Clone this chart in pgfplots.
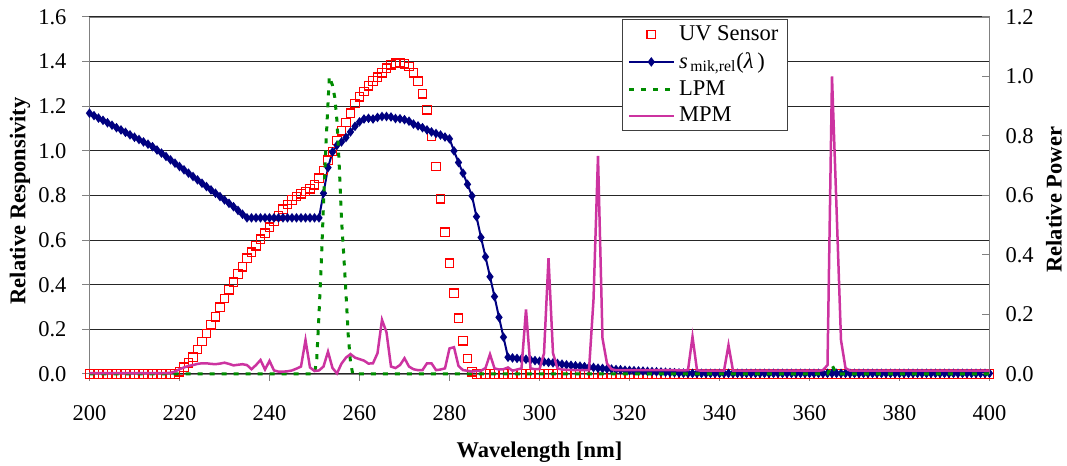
\documentclass[border=0pt]{standalone}
\usepackage{pgfplots}
\pgfplotsset{compat=1.18}
\usepackage{fontspec}
\setmainfont{Liberation Serif}

\definecolor{uvred}{RGB}{255,0,0}
\definecolor{smikblue}{RGB}{0,0,128}
\definecolor{lpmgreen}{RGB}{0,140,0}
\definecolor{mpmpink}{RGB}{204,51,160}
\newcommand\lbl{\fontsize{11.25}{13.5}\selectfont}

\pgfplotsset{
  base/.style={
    scale only axis, width=450pt, height=178.5pt,
    at={(0,0)}, anchor=south west,
    xmin=200, xmax=400, clip=false,
    tick label style={font=\lbl},
    label style={font=\lbl\bfseries},
    /pgf/number format/.cd, fixed, fixed zerofill, precision=1, assume math mode=true,
  },
  uvstyle/.style={only marks, mark=square, mark size=2.1pt, mark options={draw=uvred, line width=0.65pt, fill=none}},
  smikstyle/.style={smikblue, line width=1pt, mark=diamond*, mark size=1.6pt, mark options={draw=smikblue, fill=smikblue}},
  lpmstyle/.style={lpmgreen, line width=1.5pt, dash pattern=on 2.5pt off 3.5pt, no markers},
  mpmstyle/.style={mpmpink, line width=1.25pt, no markers},
}

\begin{document}
\begin{tikzpicture}
\useasboundingbox (-44.75pt,-46pt) rectangle (488.75pt,187pt);

\begin{axis}[base,
  ymin=0, ymax=1.6, ytick={0,0.2,...,1.6},
  xtick={200,220,...,400},
  tick pos=left, tick align=outside, major tick length=3.5pt,
  axis line style={gray},
  tick style={gray, line width=0.5pt},
  ymajorgrids, grid style={black!85, line width=0.5pt},
  xlabel={Wavelength [nm]},
  ylabel={Relative Responsivity},
  xlabel style={at={(axis description cs:0.5,-0.2200)}, anchor=center},
  ylabel style={at={(axis description cs:-0.0772,0.485)}, anchor=center},
  xticklabel style={anchor=center, yshift=-16pt, /pgf/number format/precision=0},
  yticklabel style={anchor=east, xshift=-4.5pt},
]
% UV Sensor
\addplot[uvstyle] coordinates {
(200,0)(201,0)(202,0)(203,0)(204,0)(205,0)(206,0)(207,0)(208,0)(209,0)
(210,0)(211,0)(212,0)(213,0)(214,0)(215,0)(216,0)(217,0)(218,0)(219,0)
(220,0.010)(221,0.030)(222,0.050)(223,0.075)(224,0.110)(225,0.145)(226,0.182)(227,0.220)(228,0.257)(229,0.299)
(230,0.338)(231,0.377)(232,0.412)(233,0.448)(234,0.481)(235,0.519)(236,0.546)(237,0.575)(238,0.604)(239,0.631)
(240,0.658)(241,0.683)(242,0.709)(243,0.738)(244,0.760)(245,0.780)(246,0.795)(247,0.808)(248,0.818)(249,0.830)
(250,0.848)(251,0.878)(252,0.912)(253,0.958)(254,0.997)(255,1.046)(256,1.090)(257,1.127)(258,1.169)(259,1.212)
(260,1.242)(261,1.266)(262,1.292)(263,1.313)(264,1.330)(265,1.350)(266,1.370)(267,1.386)(268,1.393)(269,1.396)
(270,1.390)(271,1.378)(272,1.350)(273,1.312)(274,1.256)(275,1.184)(276,1.064)(277,0.930)(278,0.785)(279,0.635)
(280,0.496)(281,0.362)(282,0.250)(283,0.149)(284,0.070)(285,0.010)(286,0)(287,0)(288,0)(289,0)
(290,0)(291,0)(292,0)(293,0)(294,0)(295,0)(296,0)(297,0)(298,0)(299,0)
(300,0)(301,0)(302,0)(303,0)(304,0)(305,0)(306,0)(307,0)(308,0)(309,0)
(310,0)(311,0)(312,0)(313,0)(314,0)(315,0)(316,0)(317,0)(318,0)(319,0)
(320,0)(321,0)(322,0)(323,0)(324,0)(325,0)(326,0)(327,0)(328,0)(329,0)
(330,0)(331,0)(332,0)(333,0)(334,0)(335,0)(336,0)(337,0)(338,0)(339,0)
(340,0)(341,0)(342,0)(343,0)(344,0)(345,0)(346,0)(347,0)(348,0)(349,0)
(350,0)(351,0)(352,0)(353,0)(354,0)(355,0)(356,0)(357,0)(358,0)(359,0)
(360,0)(361,0)(362,0)(363,0)(364,0)(365,0)(366,0)(367,0)(368,0)(369,0)
(370,0)(371,0)(372,0)(373,0)(374,0)(375,0)(376,0)(377,0)(378,0)(379,0)
(380,0)(381,0)(382,0)(383,0)(384,0)(385,0)(386,0)(387,0)(388,0)(389,0)
(390,0)(391,0)(392,0)(393,0)(394,0)(395,0)(396,0)(397,0)(398,0)(399,0)
(400,0)
};
% s_mik,rel
\addplot[smikstyle] coordinates {
(200,1.169)(201,1.158)(202,1.147)(203,1.137)(204,1.126)(205,1.115)(206,1.104)(207,1.094)(208,1.083)(209,1.072)
(210,1.061)(211,1.051)(212,1.040)(213,1.030)(214,1.019)(215,1.004)(216,0.990)(217,0.975)(218,0.960)(219,0.945)
(220,0.930)(221,0.915)(222,0.900)(223,0.885)(224,0.870)(225,0.855)(226,0.840)(227,0.825)(228,0.810)(229,0.795)
(230,0.780)(231,0.765)(232,0.750)(233,0.733)(234,0.716)(235,0.700)(236,0.700)(237,0.700)(238,0.700)(239,0.700)
(240,0.700)(241,0.700)(242,0.700)(243,0.700)(244,0.700)(245,0.700)(246,0.700)(247,0.700)(248,0.700)(249,0.700)
(250,0.700)(251,0.700)(252,0.810)(253,0.925)(254,0.995)(255,1.025)(256,1.040)(257,1.060)(258,1.085)(259,1.110)
(260,1.130)(261,1.143)(262,1.146)(263,1.143)(264,1.150)(265,1.154)(266,1.154)(267,1.152)(268,1.145)(269,1.144)
(270,1.140)(271,1.133)(272,1.120)(273,1.112)(274,1.104)(275,1.094)(276,1.085)(277,1.078)(278,1.071)(279,1.062)
(280,1.054)(281,1.000)(282,0.948)(283,0.900)(284,0.850)(285,0.798)(286,0.705)(287,0.612)(288,0.525)(289,0.436)
(290,0.347)(291,0.254)(292,0.165)(293,0.075)(294,0.072)(295,0.070)(296,0.068)(297,0.066)(298,0.063)(299,0.060)
(300,0.057)(301,0.055)(302,0.052)(303,0.050)(304,0.047)(305,0.044)(306,0.041)(307,0.039)(308,0.037)(309,0.035)
(310,0.033)(311,0.031)(312,0.029)(313,0.026)(314,0.025)(315,0.023)(316,0.022)(317,0.020)(318,0.019)(319,0.017)
(320,0.016)(321,0.015)(322,0.014)(323,0.013)(324,0.012)(325,0.011)(326,0.010)(327,0.009)(328,0.008)(329,0.007)
(330,0.006)(331,0.005)(332,0.004)(333,0.003)(334,0.003)(335,0.003)(336,0.003)(337,0.003)(338,0.003)(339,0.003)
(340,0.003)(341,0.003)(342,0.003)(343,0.003)(344,0.003)(345,0.003)(346,0.003)(347,0.003)(348,0.003)(349,0.003)
(350,0.003)(351,0.003)(352,0.003)(353,0.003)(354,0.003)(355,0.003)(356,0.003)(357,0.003)(358,0.003)(359,0.003)
(360,0.003)(361,0.003)(362,0.003)(363,0.003)(364,0.003)(365,0.003)(366,0.003)(367,0.003)(368,0.003)(369,0.003)
(370,0.003)(371,0.003)(372,0.003)(373,0.003)(374,0.003)(375,0.003)(376,0.003)(377,0.003)(378,0.003)(379,0.003)
(380,0.003)(381,0.003)(382,0.003)(383,0.003)(384,0.003)(385,0.003)(386,0.003)(387,0.003)(388,0.003)(389,0.003)
(390,0.003)(391,0.003)(392,0.003)(393,0.003)(394,0.003)(395,0.003)(396,0.003)(397,0.003)(398,0.003)(399,0.003)
(400,0.003)
};
\end{axis}

\begin{axis}[base,
  ymin=0, ymax=1.2, ytick={0,0.2,...,1.2},
  axis y line*=right, axis x line=none,
  axis line style={gray, -},
  ytick align=inside, major tick length=4pt,
  tick style={gray, line width=0.5pt},
  ylabel={Relative Power},
  ylabel style={at={(axis description cs:1.0717,0.488)}, anchor=center, rotate=0},
  yticklabel style={anchor=west, xshift=4.5pt},
  legend style={at={(0.5917,0.9944)}, anchor=north west, font=\lbl,
    draw=black!75, line width=0.6pt, inner xsep=2.5pt, inner ysep=1pt, row sep=0.5pt,
    legend cell align=left},
  legend image code/.code={\draw[mark repeat=2,mark phase=2,#1] plot coordinates {(0cm,0cm)(0.39cm,0cm)(0.78cm,0cm)};},
]
\addlegendimage{uvstyle}
\addlegendentry{UV Sensor}
\addlegendimage{smikstyle}
\addlegendentry{\textit{s}\textsubscript{\,mik,rel}(\textit{λ}\,)}
% LPM
\addplot[lpmstyle] coordinates {
(200,0)(210,0)(220,0)(230,0)(240,0)(250,0)(250.5,0.05)(251,0.20)(251.5,0.37)(252,0.57)(252.5,0.76)(253,0.91)(253.3,1.0)
(254,0.97)(254.5,0.93)(255,0.85)(255.5,0.70)(256,0.52)(256.5,0.40)(257,0.27)(257.5,0.13)(258,0.04)(258.5,0)
(270,0)(280,0)(290,0)(300,0)(310,0)(320,0)(330,0)(340,0)(350,0)(360,0)(364,0)(365,0.03)(366,0)
(370,0)(380,0)(390,0)(400,0)
};
\addlegendentry{LPM}
% MPM
\addplot[mpmstyle] coordinates {
(200,0.003)(201,0.003)(202,0.003)(203,0.003)(204,0.003)(205,0.003)(206,0.003)(207,0.003)(208,0.003)(209,0.003)
(210,0.003)(211,0.003)(212,0.003)(213,0.003)(214,0.003)(215,0.003)(216,0.003)(217,0.003)(218,0.004)(219,0.008)
(220,0.016)(221,0.022)(222,0.027)(223,0.030)(224,0.034)(225,0.036)(226,0.036)(227,0.034)(228,0.033)(229,0.035)
(230,0.038)(231,0.034)(232,0.029)(233,0.031)(234,0.033)(235,0.030)(236,0.016)(237,0.030)(238,0.047)(239,0.015)
(240,0.044)(241,0.012)(242,0.008)(243,0.008)(244,0.009)(245,0.012)(246,0.018)(247,0.025)(248,0.114)(249,0.022)
(250,0.010)(251,0.012)(252,0.025)(253,0.075)(254,0.020)(255,0.002)(256,0.035)(257,0.055)(258,0.067)(259,0.055)
(260,0.050)(261,0.045)(262,0.035)(263,0.036)(264,0.070)(265,0.182)(266,0.140)(267,0.025)(268,0.020)(269,0.030)
(270,0.053)(271,0.025)(272,0.016)(273,0.013)(274,0.013)(275,0.036)(276,0.036)(277,0.013)(278,0.015)(279,0.019)
(280,0.086)(281,0.090)(282,0.027)(283,0.013)(284,0.011)(285,0.008)(286,0.010)(287,0.011)(288,0.020)(289,0.066)
(290,0.019)(291,0.015)(292,0.016)(293,0.022)(294,0.011)(295,0.015)(296,0.019)(297,0.217)(298,0.019)(299,0.016)
(300,0.016)(301,0.069)(302,0.389)(303,0.070)(304,0.019)(305,0.015)(306,0.014)(307,0.014)(308,0.013)(309,0.013)
(310,0.013)(311,0.013)(312,0.250)(313,0.733)(314,0.120)(315,0.035)(316,0.016)(317,0.013)(318,0.013)(319,0.013)
(320,0.013)(321,0.013)(322,0.013)(323,0.013)(324,0.013)(325,0.013)(326,0.013)(327,0.013)(328,0.013)(329,0.013)
(330,0.013)(331,0.012)(332,0.012)(333,0.013)(334,0.125)(335,0.013)(336,0.011)(337,0.011)(338,0.011)(339,0.011)
(340,0.011)(341,0.011)(342,0.097)(343,0.011)(344,0.011)(345,0.011)(346,0.011)(347,0.011)(348,0.011)(349,0.011)
(350,0.011)(351,0.011)(352,0.011)(353,0.011)(354,0.011)(355,0.011)(356,0.011)(357,0.011)(358,0.011)(359,0.011)
(360,0.011)(361,0.011)(362,0.011)(363,0.013)(364,0.030)(365,1.000)(366,0.560)(367,0.114)(368,0.020)(369,0.011)
(370,0.011)(375,0.011)(380,0.011)(385,0.011)(390,0.011)(395,0.011)(400,0.011)
};
\addlegendentry{MPM}
\end{axis}
\end{tikzpicture}
\end{document}
